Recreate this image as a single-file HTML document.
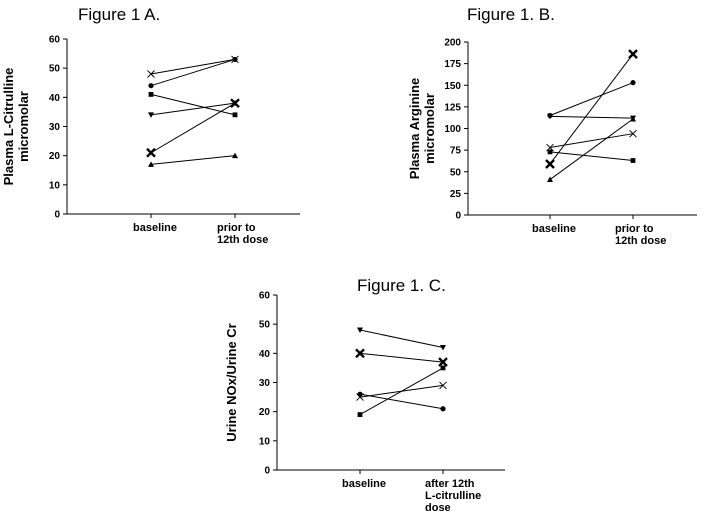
<!DOCTYPE html>
<html><head><meta charset="utf-8"><style>
body{margin:0;background:#fff;width:720px;height:514px;overflow:hidden}
svg text{font-family:"Liberation Sans",Arial,sans-serif}
</style></head><body>
<svg id="c" width="720" height="514"></svg>
<script>
const catsAB=["baseline","prior to|12th dose"];
const catsC=["baseline","after 12th|L-citrulline|dose"];
const aBase=[48,44,41,34,21,17], aPost=[53,53,34,38,38,20];
const aMarks=["x","circle","square","down","bigx","up"];
const bBase=[59,115,114,41,78,73], bPost=[186,153,112,111,94,63];
const bMarks=["bigx","circle","down","up","x","square"];
const cBase=[48,40,26,25,19], cPost=[42,37,21,29,35];
const cMarks=["down","bigx","circle","x","square"];
const aTicks=[0,10,20,30,40,50,60], bTicks=[0,25,50,75,100,125,150,175,200], cTicks=[0,10,20,30,40,50,60];
const NS="http://www.w3.org/2000/svg", svg=document.getElementById('c');
function el(t,a,p){const e=document.createElementNS(NS,t);for(const k in a)e.setAttribute(k,a[k]);(p||svg).appendChild(e);return e;}
function marker(g,m,x,y){
  if(m==="circle")el('circle',{cx:x,cy:y,r:2.6,fill:'#000'},g);
  else if(m==="square")el('rect',{x:x-2.4,y:y-2.4,width:4.8,height:4.8,fill:'#000'},g);
  else if(m==="up")el('polygon',{points:`${x},${y-3} ${x-3},${y+2.5} ${x+3},${y+2.5}`,fill:'#000'},g);
  else if(m==="down")el('polygon',{points:`${x},${y+3} ${x-3},${y-2.5} ${x+3},${y-2.5}`,fill:'#000'},g);
  else{const s=m==="bigx"?4:3.5,w=m==="bigx"?2.4:0.9;
    el('path',{d:`M${x-s},${y-s}L${x+s},${y+s}M${x-s},${y+s}L${x+s},${y-s}`,stroke:'#000','stroke-width':w,fill:'none'},g);}
}
function panel(id,o){
  const g=el('g',{});
  const ys=v=>o.yb-(v-o.min)/(o.max-o.min)*(o.yb-o.yt);
  const xs=i=>o.xc[i];
  const t=el('text',{x:o.tx,y:o.ty,'font-size':17,fill:'#000'},g);t.textContent=o.title;
  
  el('line',{x1:o.x0,y1:o.yt,x2:o.x0,y2:o.yb,stroke:'#000','stroke-width':1},g);
  el('line',{x1:o.x0,y1:o.yb,x2:o.x1,y2:o.yb,stroke:'#000','stroke-width':1},g);
  o.ticks.forEach(v=>{const y=ys(v);el('line',{x1:o.x0-4,y1:y,x2:o.x0,y2:y,stroke:'#000'},g);
    const tl=el('text',{x:o.x0-7,y:y+3.5,'font-size':10,'font-weight':'bold','text-anchor':'end'},g);tl.textContent=v;
    });
  o.cats.forEach((c,i)=>{el('line',{x1:xs(i),y1:o.yb,x2:xs(i),y2:o.yb+4,stroke:'#000'},g);
    c.split('|').forEach((s,j)=>{const tl=el('text',{x:xs(i)-18,y:o.yb+17+j*12,'font-size':11,'font-weight':'bold'},g);tl.textContent=s;
      });});
  const yl=el('text',{transform:`translate(${o.ylx},${(o.yt+o.yb)/2}) rotate(-90)`,'font-size':13,'font-weight':'bold','text-anchor':'middle'},g);
  
  o.ylab.forEach((s,j)=>{const ts=el('tspan',{x:0,dy:j?15:0},yl);ts.textContent=s;});
  o.base.forEach((b,i)=>{const p=o.post[i];
    const ln=el('line',{x1:xs(0),y1:ys(b),x2:xs(1),y2:ys(p),stroke:'#000','stroke-width':1},g);
    
    marker(g,o.marks[i],xs(0),ys(b));marker(g,o.marks[i],xs(1),ys(p));});
}
panel('panel-a',{title:'Figure 1 A.',tx:78,ty:20,x0:67,x1:300,yt:39,yb:214,min:0,max:60,ticks:aTicks,cats:catsAB,xc:[151,235],ylab:['Plasma L-Citrulline','micromolar'],ylx:13,base:aBase,post:aPost,marks:aMarks});
panel('panel-b',{title:'Figure 1. B.',tx:467,ty:20,x0:468,x1:697,yt:42,yb:215,min:0,max:200,ticks:bTicks,cats:catsAB,xc:[550,633],ylab:['Plasma Arginine','micromolar'],ylx:419,base:bBase,post:bPost,marks:bMarks});
panel('panel-c',{title:'Figure 1. C.',tx:357,ty:291,x0:277,x1:505,yt:295,yb:470,min:0,max:60,ticks:cTicks,cats:catsC,xc:[360,443],ylab:['Urine NOx/Urine Cr'],ylx:236,base:cBase,post:cPost,marks:cMarks});
</script></body></html>
